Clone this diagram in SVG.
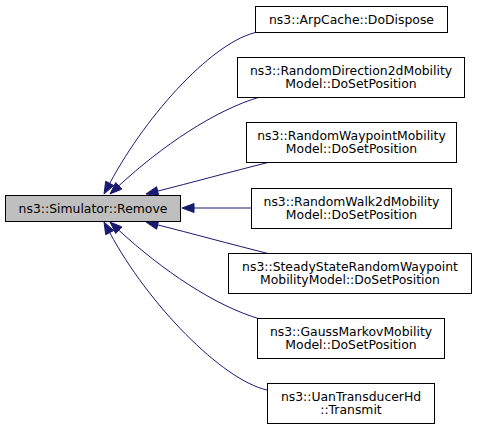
<svg xmlns="http://www.w3.org/2000/svg" width="477" height="429" viewBox="0 0 477 429">
<style>
.n rect{fill:#fff;stroke:#000;stroke-width:1}
#main rect{fill:#bfbfbf}
text{font-family:"DejaVu Sans","Liberation Sans",sans-serif;font-size:12.4px;text-anchor:middle;fill:#000}
.e path{fill:none;stroke:#191970;stroke-width:1}
.e polygon{fill:#191970;stroke:#191970;stroke-width:1}
</style>
<rect width="477" height="429" fill="#fff"/>
<g id="edges" class="e">
<path d="M258,32 C215,40 148,112 109.7,183.4"/>
<polygon points="104,194 113.7,185.5 105.7,181.3"/>
<path d="M260,97 C215,110 162,146 118.8,185.8"/>
<polygon points="110,194 121.9,189.1 115.7,182.5"/>
<path d="M270,162 C230,172 190,183 157.7,191.1"/>
<polygon points="146,194 158.7,195.5 156.6,186.7"/>
<path d="M251,208 L194,208"/>
<polygon points="182,208 194,203.5 194,212.5"/>
<path d="M270,254 C230,244 190,233 157.7,224.9"/>
<polygon points="146,222 158.7,220.5 156.6,229.3"/>
<path d="M260,319 C215,306 162,270 118.8,230.2"/>
<polygon points="110,222 121.9,226.9 115.7,233.5"/>
<path d="M267,390 C222,380 148,304 109.7,232.6"/>
<polygon points="104,222 113.7,230.5 105.7,234.7"/>
</g>
<g id="main" class="n">
<rect x="5.5" y="195.5" width="175" height="26"/>
<text x="93" y="212.5">ns3::Simulator::Remove</text>
</g>
<g id="n1" class="n">
<rect x="255.5" y="6.5" width="192" height="26"/>
<text x="351.5" y="23.5">ns3::ArpCache::DoDispose</text>
</g>
<g id="n2" class="n">
<rect x="237.5" y="57.5" width="227" height="40"/>
<text x="351" y="74.5">ns3::RandomDirection2dMobility</text>
<text x="351" y="88">Model::DoSetPosition</text>
</g>
<g id="n3" class="n">
<rect x="246.5" y="122.5" width="210" height="40"/>
<text x="351.5" y="139.5">ns3::RandomWaypointMobility</text>
<text x="351.5" y="153">Model::DoSetPosition</text>
</g>
<g id="n4" class="n">
<rect x="251.5" y="188.5" width="200" height="40"/>
<text x="351.5" y="205.5">ns3::RandomWalk2dMobility</text>
<text x="351.5" y="219">Model::DoSetPosition</text>
</g>
<g id="n5" class="n">
<rect x="228.5" y="253.5" width="243" height="40"/>
<text x="350" y="270.5">ns3::SteadyStateRandomWaypoint</text>
<text x="350" y="284">MobilityModel::DoSetPosition</text>
</g>
<g id="n6" class="n">
<rect x="257.5" y="318.5" width="187" height="40"/>
<text x="351" y="335.5">ns3::GaussMarkovMobility</text>
<text x="351" y="349">Model::DoSetPosition</text>
</g>
<g id="n7" class="n">
<rect x="267.5" y="383.5" width="167" height="40"/>
<text x="351" y="400.5">ns3::UanTransducerHd</text>
<text x="351" y="414">::Transmit</text>
</g>
</svg>
